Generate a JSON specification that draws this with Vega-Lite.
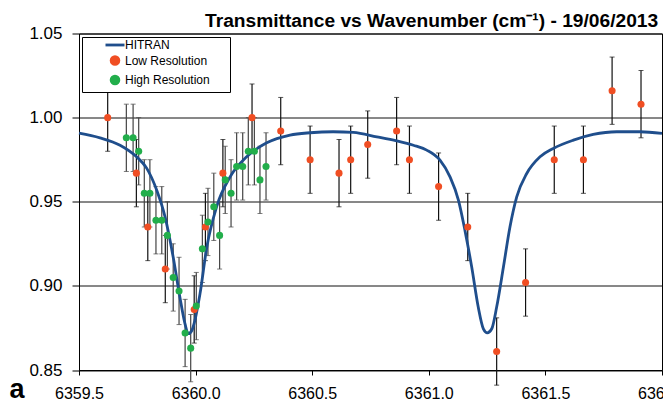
{
  "$schema": "https://vega.github.io/schema/vega-lite/v6.json",
  "autosize": "none",
  "width": 583,
  "height": 336.5,
  "padding": {"left": 79, "top": 33.5, "right": 1, "bottom": 38},
  "background": "white",
  "title": {"text": "Transmittance vs Wavenumber (cm⁻¹) - 19/06/2013", "anchor": "start", "frame": "group", "dx": 126, "dy": 5, "offset": -2, "font": "Liberation Sans", "fontSize": 19.2, "fontWeight": "bold", "color": "#000"},
  "config": {
    "view": {"stroke": "#000", "strokeWidth": 1},
    "axis": {"labelFont": "Liberation Sans", "labelColor": "#000", "domainColor": "#000", "tickColor": "#000", "titleFont": "Liberation Sans"}
  },
  "datasets": {
    "obs": [
      {"v": 6359.623, "t": 1.000, "err": 0.02, "series": "Low Resolution"},
      {"v": 6359.746, "t": 0.967, "err": 0.02, "series": "Low Resolution"},
      {"v": 6359.795, "t": 0.935, "err": 0.02, "series": "Low Resolution"},
      {"v": 6359.870, "t": 0.910, "err": 0.02, "series": "Low Resolution"},
      {"v": 6359.994, "t": 0.886, "err": 0.02, "series": "Low Resolution"},
      {"v": 6360.042, "t": 0.935, "err": 0.02, "series": "Low Resolution"},
      {"v": 6360.117, "t": 0.967, "err": 0.02, "series": "Low Resolution"},
      {"v": 6360.242, "t": 1.000, "err": 0.02, "series": "Low Resolution"},
      {"v": 6360.365, "t": 0.992, "err": 0.02, "series": "Low Resolution"},
      {"v": 6360.491, "t": 0.975, "err": 0.02, "series": "Low Resolution"},
      {"v": 6360.615, "t": 0.967, "err": 0.02, "series": "Low Resolution"},
      {"v": 6360.665, "t": 0.975, "err": 0.02, "series": "Low Resolution"},
      {"v": 6360.738, "t": 0.984, "err": 0.02, "series": "Low Resolution"},
      {"v": 6360.862, "t": 0.992, "err": 0.02, "series": "Low Resolution"},
      {"v": 6360.917, "t": 0.975, "err": 0.02, "series": "Low Resolution"},
      {"v": 6361.042, "t": 0.959, "err": 0.02, "series": "Low Resolution"},
      {"v": 6361.167, "t": 0.935, "err": 0.02, "series": "Low Resolution"},
      {"v": 6361.291, "t": 0.861, "err": 0.02, "series": "Low Resolution"},
      {"v": 6361.415, "t": 0.902, "err": 0.02, "series": "Low Resolution"},
      {"v": 6361.538, "t": 0.975, "err": 0.02, "series": "Low Resolution"},
      {"v": 6361.663, "t": 0.975, "err": 0.02, "series": "Low Resolution"},
      {"v": 6361.786, "t": 1.016, "err": 0.02, "series": "Low Resolution"},
      {"v": 6361.910, "t": 1.008, "err": 0.02, "series": "Low Resolution"},
      {"v": 6359.703, "t": 0.988, "err": 0.02, "series": "High Resolution"},
      {"v": 6359.732, "t": 0.988, "err": 0.02, "series": "High Resolution"},
      {"v": 6359.756, "t": 0.980, "err": 0.02, "series": "High Resolution"},
      {"v": 6359.780, "t": 0.955, "err": 0.02, "series": "High Resolution"},
      {"v": 6359.804, "t": 0.955, "err": 0.02, "series": "High Resolution"},
      {"v": 6359.830, "t": 0.939, "err": 0.02, "series": "High Resolution"},
      {"v": 6359.855, "t": 0.939, "err": 0.02, "series": "High Resolution"},
      {"v": 6359.879, "t": 0.930, "err": 0.02, "series": "High Resolution"},
      {"v": 6359.904, "t": 0.905, "err": 0.02, "series": "High Resolution"},
      {"v": 6359.929, "t": 0.897, "err": 0.02, "series": "High Resolution"},
      {"v": 6359.955, "t": 0.872, "err": 0.02, "series": "High Resolution"},
      {"v": 6359.979, "t": 0.863, "err": 0.02, "series": "High Resolution"},
      {"v": 6360.003, "t": 0.888, "err": 0.02, "series": "High Resolution"},
      {"v": 6360.029, "t": 0.922, "err": 0.02, "series": "High Resolution"},
      {"v": 6360.053, "t": 0.938, "err": 0.02, "series": "High Resolution"},
      {"v": 6360.078, "t": 0.947, "err": 0.02, "series": "High Resolution"},
      {"v": 6360.103, "t": 0.930, "err": 0.02, "series": "High Resolution"},
      {"v": 6360.127, "t": 0.963, "err": 0.02, "series": "High Resolution"},
      {"v": 6360.152, "t": 0.955, "err": 0.02, "series": "High Resolution"},
      {"v": 6360.176, "t": 0.971, "err": 0.02, "series": "High Resolution"},
      {"v": 6360.202, "t": 0.971, "err": 0.02, "series": "High Resolution"},
      {"v": 6360.226, "t": 0.980, "err": 0.02, "series": "High Resolution"},
      {"v": 6360.252, "t": 0.980, "err": 0.02, "series": "High Resolution"},
      {"v": 6360.276, "t": 0.963, "err": 0.02, "series": "High Resolution"},
      {"v": 6360.302, "t": 0.971, "err": 0.02, "series": "High Resolution"}
    ],
    "hitran": [
      {"v": 6359.500, "t": 0.9908, "series": "HITRAN"},
      {"v": 6359.590, "t": 0.9880, "series": "HITRAN"},
      {"v": 6359.676, "t": 0.9836, "series": "HITRAN"},
      {"v": 6359.747, "t": 0.9767, "series": "HITRAN"},
      {"v": 6359.790, "t": 0.9700, "series": "HITRAN"},
      {"v": 6359.833, "t": 0.9570, "series": "HITRAN"},
      {"v": 6359.869, "t": 0.9410, "series": "HITRAN"},
      {"v": 6359.904, "t": 0.9170, "series": "HITRAN"},
      {"v": 6359.933, "t": 0.8930, "series": "HITRAN"},
      {"v": 6359.952, "t": 0.8790, "series": "HITRAN"},
      {"v": 6359.969, "t": 0.8716, "series": "HITRAN"},
      {"v": 6359.984, "t": 0.8735, "series": "HITRAN"},
      {"v": 6359.997, "t": 0.8795, "series": "HITRAN"},
      {"v": 6360.019, "t": 0.8954, "series": "HITRAN"},
      {"v": 6360.048, "t": 0.9230, "series": "HITRAN"},
      {"v": 6360.090, "t": 0.9470, "series": "HITRAN"},
      {"v": 6360.148, "t": 0.9648, "series": "HITRAN"},
      {"v": 6360.219, "t": 0.9767, "series": "HITRAN"},
      {"v": 6360.305, "t": 0.9850, "series": "HITRAN"},
      {"v": 6360.405, "t": 0.9896, "series": "HITRAN"},
      {"v": 6360.491, "t": 0.9910, "series": "HITRAN"},
      {"v": 6360.590, "t": 0.9916, "series": "HITRAN"},
      {"v": 6360.676, "t": 0.9912, "series": "HITRAN"},
      {"v": 6360.777, "t": 0.9886, "series": "HITRAN"},
      {"v": 6360.862, "t": 0.9862, "series": "HITRAN"},
      {"v": 6360.934, "t": 0.9836, "series": "HITRAN"},
      {"v": 6360.991, "t": 0.9807, "series": "HITRAN"},
      {"v": 6361.048, "t": 0.9747, "series": "HITRAN"},
      {"v": 6361.091, "t": 0.9648, "series": "HITRAN"},
      {"v": 6361.127, "t": 0.9510, "series": "HITRAN"},
      {"v": 6361.155, "t": 0.9330, "series": "HITRAN"},
      {"v": 6361.184, "t": 0.9112, "series": "HITRAN"},
      {"v": 6361.212, "t": 0.8874, "series": "HITRAN"},
      {"v": 6361.234, "t": 0.8745, "series": "HITRAN"},
      {"v": 6361.251, "t": 0.8721, "series": "HITRAN"},
      {"v": 6361.270, "t": 0.8745, "series": "HITRAN"},
      {"v": 6361.291, "t": 0.8874, "series": "HITRAN"},
      {"v": 6361.320, "t": 0.9112, "series": "HITRAN"},
      {"v": 6361.348, "t": 0.9350, "series": "HITRAN"},
      {"v": 6361.377, "t": 0.9529, "series": "HITRAN"},
      {"v": 6361.420, "t": 0.9668, "series": "HITRAN"},
      {"v": 6361.477, "t": 0.9767, "series": "HITRAN"},
      {"v": 6361.534, "t": 0.9817, "series": "HITRAN"},
      {"v": 6361.620, "t": 0.9866, "series": "HITRAN"},
      {"v": 6361.705, "t": 0.9900, "series": "HITRAN"},
      {"v": 6361.806, "t": 0.9916, "series": "HITRAN"},
      {"v": 6361.906, "t": 0.9916, "series": "HITRAN"},
      {"v": 6362.000, "t": 0.9906, "series": "HITRAN"}
    ]
  },
  "encoding": {
    "x": {"field": "v", "type": "quantitative", "scale": {"domain": [6359.5, 6362.0], "nice": false, "zero": false},
      "axis": {"values": [6359.5, 6360.0, 6360.5, 6361.0, 6361.5, 6362.0], "format": ".1f", "grid": false, "tickSize": 5, "labelPadding": 10, "labelFontSize": 16, "labelFlush": false,
        "title": "a", "titleAnchor": "start", "titleAlign": "left", "titleX": -70, "titleY": 27, "titleBaseline": "alphabetic", "titleFontSize": 27, "titleFontWeight": "bold", "titleColor": "#000"}},
    "y": {"field": "t", "type": "quantitative", "scale": {"domain": [0.85, 1.05], "nice": false, "zero": false},
      "axis": {"values": [0.85, 0.9, 0.95, 1.0, 1.05], "format": ".2f", "grid": true, "gridColor": "#111", "gridWidth": 1, "tickSize": 7, "labelPadding": 10, "labelFontSize": 17, "title": null}}
  },
  "layer": [
    {
      "data": {"name": "obs"},
      "transform": [{"filter": "datum.series === 'Low Resolution'"}],
      "mark": {"type": "errorbar", "ticks": {"size": 5, "color": "#111"}, "rule": {"color": "#111", "strokeWidth": 1.2}},
      "encoding": {"yError": {"field": "err"}}
    },
    {
      "data": {"name": "obs"},
      "transform": [{"filter": "datum.series === 'High Resolution'"}],
      "mark": {"type": "errorbar", "ticks": {"size": 5, "color": "#444"}, "rule": {"color": "#444", "strokeWidth": 1.2}},
      "encoding": {"yError": {"field": "err"}}
    },
    {
      "data": {"name": "hitran"},
      "mark": {"type": "line", "strokeWidth": 2.8, "interpolate": "monotone"},
      "encoding": {
        "color": {"field": "series", "type": "nominal",
          "scale": {"domain": ["HITRAN", "Low Resolution", "High Resolution"], "range": ["#1F4E8C", "#F04E23", "#22AE4B"]},
          "legend": {"title": null, "orient": "none", "legendX": 3, "legendY": 3.5, "strokeColor": "#000", "fillColor": "#fff", "padding": 2,
            "labelFont": "Liberation Sans", "labelFontSize": 12, "labelColor": "#000", "labelOffset": 4, "rowPadding": -0.5, "symbolOffset": 25,
            "labelExpr": "datum.label + '\u2003\u2002\u200b'",
            "symbolType": "circle", "symbolSize": 400,
            "encode": {"symbols": {"update": {
              "shape": {"signal": "datum.value === 'HITRAN' ? 'stroke' : 'circle'"},
              "size": {"signal": "datum.value === 'HITRAN' ? 361 : 60"},
              "fill": {"signal": "datum.value === 'HITRAN' ? 'transparent' : (datum.value === 'Low Resolution' ? '#F04E23' : '#22AE4B')"},
              "stroke": {"signal": "datum.value === 'HITRAN' ? '#1F4E8C' : 'transparent'"},
              "strokeWidth": {"value": 2.8},
              "opacity": {"value": 1}
            }}}}
        }
      }
    },
    {
      "data": {"name": "obs"},
      "mark": {"type": "point", "filled": true, "opacity": 1, "size": 50},
      "encoding": {"color": {"field": "series", "type": "nominal"}}
    }
  ]
}
